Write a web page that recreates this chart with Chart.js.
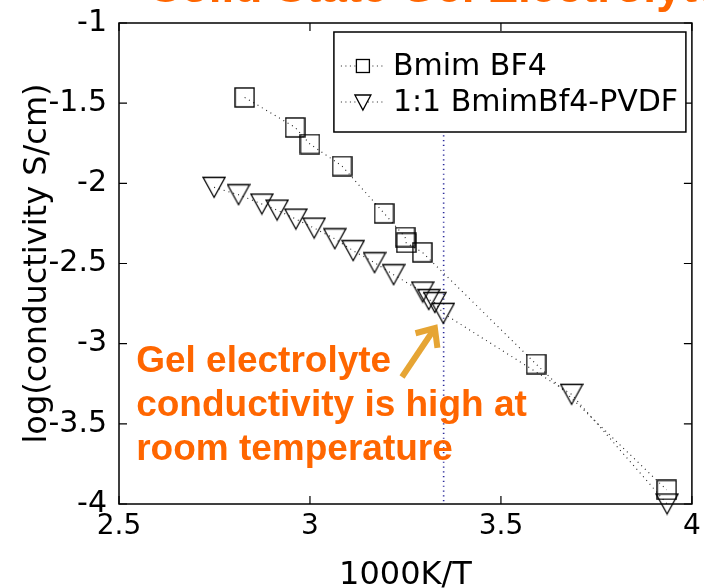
<!DOCTYPE html>
<html><head><meta charset="utf-8">
<script src="https://cdn.jsdelivr.net/npm/chart.js@4.4.1/dist/chart.umd.min.js"></script>
<style>html,body{margin:0;padding:0;background:#fff;} canvas{display:block;}</style>
</head><body>
<canvas id="c" width="704" height="588"></canvas>
<script>
// ---- data ----
const bmimLabel = 'Bmim BF4';
const gelLabel = '1:1 BmimBf4-PVDF';
const bmimX = [2.829, 2.961, 3.000, 3.084, 3.194, 3.249, 3.252, 3.294, 3.592, 3.934];
const bmimY = [-1.464, -1.651, -1.755, -1.892, -2.187, -2.335, -2.371, -2.430, -3.127, -3.912];
const gelX = [2.749, 2.813, 2.874, 2.914, 2.963, 3.011, 3.065, 3.113, 3.169, 3.219, 3.295, 3.311, 3.327, 3.349, 3.685, 3.935];
const gelY = [-2.025, -2.071, -2.129, -2.167, -2.223, -2.279, -2.346, -2.420, -2.495, -2.570, -2.678, -2.725, -2.744, -2.811, -3.316, -4.000];
const xTicks = [2.5, 3, 3.5, 4];
const yTicks = [-1, -1.5, -2, -2.5, -3, -3.5, -4];
const xTitle = '1000K/T';
const yTitle = 'log(conductivity S/cm)';
const noteLines = ['Gel electrolyte', 'conductivity is high at', 'room temperature'];
const noteX = 2.545;
const noteY = [-3.177, -3.451, -3.726];
const arrowFrom = [3.241, -3.208];
const arrowTo = [3.327, -2.903];
const roomTempX = 3.35;
const roomTempTop = -1.70;
const headline = 'Solid State Gel Electrolyte';

const toPts = (xs, ys) => xs.map((x, i) => ({x, y: ys[i]}));

function makeSquare(size) {
  const c = document.createElement('canvas');
  c.width = size + 2; c.height = size + 2;
  const g = c.getContext('2d');
  g.strokeStyle = '#000'; g.lineWidth = 1.4;
  g.strokeRect(1, 1, size, size);
  return c;
}
function makeTri(w, h) {
  const c = document.createElement('canvas');
  c.width = w + 2; c.height = h + 2;
  const g = c.getContext('2d');
  g.strokeStyle = '#000'; g.lineWidth = 1.3;
  g.beginPath(); g.moveTo(1, 1.5); g.lineTo(w + 1, 1.5); g.lineTo(w / 2 + 1, h + 0.5); g.closePath(); g.stroke();
  return c;
}
const sqImg = makeSquare(19);
const triImg = makeTri(22, 21);

const TITLEFONT = {family: 'DejaVu Sans', size: 32, lineHeight: 1};

const decor = {
  id: 'decor',
  beforeDatasetsDraw(chart) {
    const {ctx, scales: {x, y}} = chart;
    ctx.save();
    ctx.strokeStyle = '#2a2a9a'; ctx.lineWidth = 1.6; ctx.setLineDash([1.2, 3.6]);
    const px = x.getPixelForValue(roomTempX);
    ctx.beginPath(); ctx.moveTo(px, y.getPixelForValue(roomTempTop)); ctx.lineTo(px, y.getPixelForValue(-4)); ctx.stroke();
    ctx.restore();
  },
  afterDraw(chart) {
    const {ctx, chartArea: a, scales: {x, y}} = chart;
    ctx.save();
    // headline (mostly cut off at the top of the picture)
    ctx.fillStyle = '#FF6600';
    ctx.font = 'bold 46px "Liberation Sans", Arial, sans-serif';
    ctx.textBaseline = 'alphabetic';
    ctx.fillText(headline, 150, 2);
    // box
    ctx.strokeStyle = '#000'; ctx.lineWidth = 1.5; ctx.setLineDash([]);
    ctx.strokeRect(a.left, a.top, a.right - a.left, a.bottom - a.top);
    // inward ticks
    ctx.lineWidth = 1.2;
    const tl = 8;
    ctx.beginPath();
    xTicks.forEach(v => {
      const p = x.getPixelForValue(v);
      ctx.moveTo(p, a.bottom); ctx.lineTo(p, a.bottom - tl);
      ctx.moveTo(p, a.top); ctx.lineTo(p, a.top + tl);
    });
    yTicks.forEach(v => {
      const p = y.getPixelForValue(v);
      ctx.moveTo(a.left, p); ctx.lineTo(a.left + tl, p);
      ctx.moveTo(a.right, p); ctx.lineTo(a.right - tl, p);
    });
    ctx.stroke();
    // legend
    const lw = 352, lh = 100;
    const lx = a.right - 6 - lw, ly = a.top + 9;
    ctx.fillStyle = '#fff';
    ctx.fillRect(lx, ly, lw, lh);
    ctx.lineWidth = 1.5; ctx.strokeStyle = '#000';
    ctx.strokeRect(lx, ly, lw, lh);
    const rows = [ly + 34, ly + 70];
    ctx.font = '30px "DejaVu Sans", sans-serif';
    ctx.textBaseline = 'middle'; ctx.textAlign = 'left'; ctx.fillStyle = '#000';
    chart.data.datasets.forEach((ds, i) => {
      const ry = rows[i];
      ctx.save();
      ctx.lineWidth = 1; ctx.strokeStyle = '#222'; ctx.setLineDash([1, 3.5]);
      ctx.beginPath(); ctx.moveTo(lx + 7, ry); ctx.lineTo(lx + 51, ry); ctx.stroke();
      ctx.restore();
      const mx = lx + 29;
      ctx.fillStyle = '#fff';
      ctx.lineWidth = 1.3; ctx.strokeStyle = '#000';
      if (i === 0) {
        ctx.fillRect(mx - 6.5, ry - 6.5, 13, 13);
        ctx.strokeRect(mx - 6.5, ry - 6.5, 13, 13);
      } else {
        ctx.beginPath(); ctx.moveTo(mx - 8, ry - 7); ctx.lineTo(mx + 8, ry - 7); ctx.lineTo(mx, ry + 8); ctx.closePath();
        ctx.fill(); ctx.stroke();
      }
      ctx.fillStyle = '#000';
      ctx.fillText(ds.label, lx + 59, ry + 1);
    });
    // annotation text
    ctx.fillStyle = '#FF6600';
    ctx.font = 'bold 37px "Liberation Sans", Arial, sans-serif';
    ctx.textBaseline = 'alphabetic';
    noteLines.forEach((t, i) => ctx.fillText(t, x.getPixelForValue(noteX), y.getPixelForValue(noteY[i])));
    // arrow
    const x0 = x.getPixelForValue(arrowFrom[0]), y0 = y.getPixelForValue(arrowFrom[1]);
    const x1 = x.getPixelForValue(arrowTo[0]), y1 = y.getPixelForValue(arrowTo[1]);
    const ang = Math.atan2(y1 - y0, x1 - x0);
    ctx.strokeStyle = '#E6A534'; ctx.lineWidth = 6; ctx.lineCap = 'butt'; ctx.lineJoin = 'miter';
    ctx.beginPath(); ctx.moveTo(x0, y0); ctx.lineTo(x1 - Math.cos(ang) * 2, y1 - Math.sin(ang) * 2); ctx.stroke();
    const hl = 20, spread = 0.72;
    ctx.beginPath();
    ctx.moveTo(x1 - Math.cos(ang - spread) * hl, y1 - Math.sin(ang - spread) * hl);
    ctx.lineTo(x1, y1);
    ctx.lineTo(x1 - Math.cos(ang + spread) * hl, y1 - Math.sin(ang + spread) * hl);
    ctx.stroke();
    ctx.restore();
  }
};

new Chart(document.getElementById('c'), {
  type: 'scatter',
  data: {
    datasets: [
      {label: bmimLabel, data: toPts(bmimX, bmimY), showLine: true, borderColor: '#222', borderWidth: 1.1, borderDash: [1, 4],
       pointStyle: sqImg, pointRadius: 10, clip: false, fill: false, tension: 0},
      {label: gelLabel, data: toPts(gelX, gelY), showLine: true, borderColor: '#222', borderWidth: 1.1, borderDash: [1, 4],
       pointStyle: triImg, pointRadius: 11, clip: false, fill: false, tension: 0}
    ]
  },
  options: {
    responsive: false, animation: false, devicePixelRatio: 1,
    layout: {padding: {top: 23, right: 10, left: 0, bottom: 0}},
    plugins: {legend: {display: false}, tooltip: {enabled: false}},
    scales: {
      x: {
        type: 'linear', min: 2.5, max: 4,
        afterBuildTicks: s => { s.ticks = xTicks.map(v => ({value: v})); },
        afterFit: s => { s.height = 84; s.paddingLeft = 0; s.paddingRight = 0; },
        grid: {display: false, drawTicks: false}, border: {display: false},
        ticks: {font: {family: 'DejaVu Sans', size: 28}, color: '#000', padding: 6, maxRotation: 0, callback: v => String(v)},
        title: {display: true, text: xTitle, font: TITLEFONT, color: '#000', padding: {top: 0, bottom: -4}}
      },
      y: {
        type: 'linear', min: -4, max: -1,
        afterBuildTicks: s => { s.ticks = yTicks.map(v => ({value: v})); },
        afterFit: s => { s.width = 119; s.paddingTop = 0; s.paddingBottom = 0; },
        grid: {display: false, drawTicks: false}, border: {display: false},
        ticks: {font: {family: 'DejaVu Sans', size: 30}, color: '#000', padding: 12, callback: v => String(v)},
        title: {display: true, text: yTitle, font: TITLEFONT, color: '#000', padding: {top: 22, bottom: 0}}
      }
    }
  },
  plugins: [decor]
});
</script>
</body></html>
